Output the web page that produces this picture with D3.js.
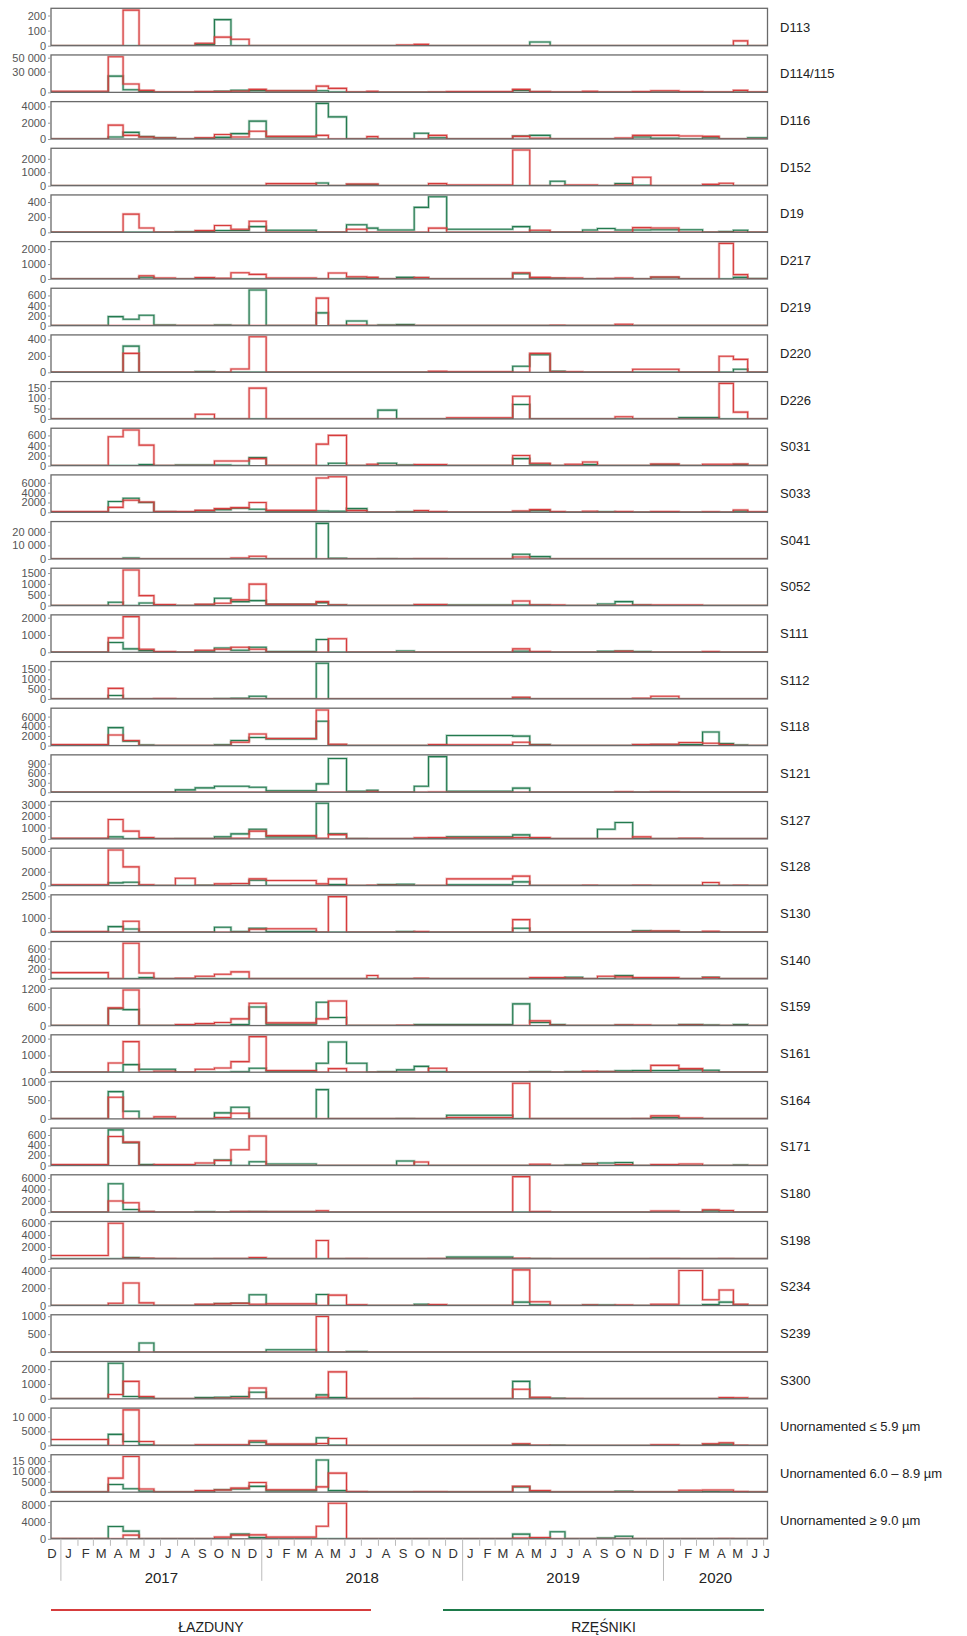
<!DOCTYPE html>
<html><head><meta charset="utf-8">
<script src="https://cdn.jsdelivr.net/npm/d3@7"></script>
<style>
body{margin:0;background:#fff}
svg{display:block}
text{font-family:'Liberation Sans',Arial,Helvetica,sans-serif}
</style>
</head><body>
<svg id="chart" width="967" height="1636"></svg>
<script>
// ---------- DATA ----------
const panelNames = ["D113","D114/115","D116","D152","D19","D217","D219","D220","D226","S031","S033","S041","S052","S111","S112","S118","S121","S127","S128","S130","S140","S159","S161","S164","S171","S180","S198","S234","S239","S300","Unornamented \u2264 5.9 \u00b5m","Unornamented 6.0 \u2013 8.9 \u00b5m","Unornamented \u2265 9.0 \u00b5m"];

// sampling period boundaries (34 periods)
const periodBreaks = ["2016-12-14","2017-03-28","2017-04-24","2017-05-23","2017-06-19","2017-07-28","2017-09-02","2017-10-07","2017-11-06","2017-12-09","2018-01-09","2018-04-10","2018-05-02","2018-06-04","2018-07-11","2018-07-31","2018-09-03","2018-10-05","2018-10-31","2018-12-03","2019-04-02","2019-05-03","2019-06-09","2019-07-06","2019-08-07","2019-09-03","2019-10-05","2019-11-06","2019-12-09","2020-01-29","2020-03-12","2020-04-11","2020-05-07","2020-06-02","2020-07-08"];

const yTickLabels = [[0,100,200],[0,30000,50000],[0,2000,4000],[0,1000,2000],[0,200,400],[0,1000,2000],[0,200,400,600],[0,200,400],[0,50,100,150],[0,200,400,600],[0,2000,4000,6000],[0,10000,20000],[0,500,1000,1500],[0,1000,2000],[0,500,1000,1500],[0,2000,4000,6000],[0,300,600,900],[0,1000,2000,3000],[0,2000,5000],[0,1000,2500],[0,200,400,600],[0,600,1200],[0,1000,2000],[0,500,1000],[0,200,400,600],[0,2000,4000,6000],[0,2000,4000,6000],[0,2000,4000],[0,500,1000],[0,1000,2000],[0,5000,10000],[0,5000,10000,15000],[0,4000,8000]];

// Łazduny (red) — one array of 34 period values per panel
const lazduny = [
[0,0,236,0,0,0,16,57,43,0, 0,0,0,0,0,0,5,9,0,0, 0,0,0,0,0,0,0,0,0,0, 0,0,32,0],
[1500,51400,12000,2900,500,500,1000,1200,1500,4300, 2400,9000,5800,300,1400,200,200,200,500,1000, 4300,1000,300,300,1400,300,500,1000,2400,1000, 600,500,2900,300],
[0,1700,450,250,120,0,160,550,250,950, 330,450,0,0,290,0,0,0,450,0, 330,100,0,0,0,0,120,450,450,370, 330,0,0,0],
[0,0,0,0,0,0,0,0,0,0, 150,0,0,130,130,0,0,0,150,50, 2650,0,0,50,50,0,50,630,0,0, 100,180,0,0],
[0,0,240,58,0,0,22,90,40,147, 0,0,0,40,0,0,0,0,55,0, 0,27,0,0,0,0,0,62,58,0, 0,0,0,0],
[0,0,0,220,70,0,90,45,420,310, 70,0,400,155,110,0,0,90,0,0, 420,110,70,70,0,30,70,0,130,0, 0,2380,290,0],
[0,0,0,0,0,0,0,0,0,0, 0,547,0,13,0,0,0,0,0,0, 0,0,7,0,0,0,27,0,0,0, 0,0,0,0],
[0,0,230,0,0,0,0,0,41,433, 0,0,0,0,0,0,0,0,12,5, 0,230,5,5,0,0,0,37,37,0, 0,195,157,0],
[0,0,0,0,0,0,23,0,0,149, 0,0,0,0,0,0,0,0,0,6, 110,0,0,0,0,0,11,0,0,0, 0,172,33,0],
[0,573,707,407,0,0,0,93,93,140, 0,427,600,0,27,0,0,20,20,0, 200,47,0,27,73,0,0,0,33,0, 27,27,33,0],
[140,1000,2450,2100,140,140,400,750,950,1980, 400,6950,7230,340,0,0,0,340,140,0, 270,550,140,0,200,0,140,0,140,0, 100,0,480,100],
[0,0,0,0,0,0,0,0,750,2000, 0,0,0,0,0,0,0,200,200,0, 1500,0,0,0,0,0,0,0,0,0, 0,0,0,0],
[0,0,1640,460,46,0,62,108,263,990, 62,185,30,0,0,0,0,46,46,0, 216,30,30,0,0,0,20,30,30,30, 0,0,0,0],
[0,835,2060,175,40,0,116,175,290,175, 0,0,780,0,0,0,0,0,0,0, 195,40,0,0,0,0,50,0,0,0, 40,0,0,0],
[0,535,0,0,20,0,0,0,0,0, 0,0,0,0,0,0,0,0,0,0, 86,0,0,0,0,0,0,30,138,0, 0,0,0,0],
[210,2180,1050,0,0,0,0,0,700,2390, 1470,7370,280,0,0,0,0,0,210,140, 700,100,0,0,0,0,0,210,280,630, 490,210,0,0],
[0,0,0,0,0,0,0,0,0,0, 0,0,0,0,20,0,0,0,10,0, 0,0,0,0,0,0,15,0,15,0, 0,0,0,0],
[60,1700,680,120,0,0,0,0,60,680, 290,60,380,0,0,0,0,90,120,90, 120,120,0,0,0,0,0,175,0,60, 0,0,0,0],
[100,5150,2700,100,0,1070,0,240,290,970, 730,240,970,0,50,50,0,0,0,970, 1360,0,0,0,50,0,0,50,0,0, 440,0,50,0],
[50,0,760,0,0,0,0,0,0,210, 240,0,2480,0,0,0,0,40,0,0, 880,0,0,0,0,0,0,40,80,0, 60,0,0,0],
[125,0,704,118,0,13,53,92,138,0, 0,0,0,0,66,0,0,13,0,0, 0,26,26,13,0,53,40,26,26,0, 26,0,0,0],
[0,578,1167,0,0,33,65,98,218,730, 87,218,807,0,0,0,10,0,0,0, 0,153,10,0,0,0,20,20,0,20, 0,0,0,0],
[0,550,1820,0,60,0,175,255,630,2120, 100,0,215,0,0,0,0,0,235,0, 0,0,0,0,50,30,0,0,410,215, 0,0,0,0],
[0,580,0,0,54,0,0,36,150,0, 0,0,0,0,0,0,0,0,0,36, 955,0,0,0,0,0,0,10,80,20, 0,0,0,0],
[20,570,460,0,20,20,50,100,310,580, 0,0,0,0,0,0,0,70,0,0, 0,25,0,0,30,0,20,0,20,30, 0,0,0,0],
[0,1960,1670,120,0,0,0,0,120,60, 60,240,0,0,0,0,0,0,0,0, 6250,120,0,0,0,0,0,0,180,0, 420,300,0,0],
[570,6000,115,115,50,0,0,50,50,230, 0,3090,0,50,0,0,0,0,50,0, 80,0,0,0,0,0,0,0,50,0, 0,50,0,0],
[0,270,2600,310,0,0,155,195,270,155, 195,0,1200,80,0,0,0,0,115,0, 4120,430,0,0,50,0,50,0,155,4050, 660,1790,155,0],
[0,0,0,0,0,0,0,0,0,0, 0,990,0,0,0,0,0,0,0,0, 0,0,0,0,0,0,0,0,0,0, 0,0,0,0],
[0,290,1180,155,0,0,0,40,60,730, 0,110,1820,0,0,0,0,20,0,0, 645,110,0,20,0,0,0,0,0,0, 0,90,70,0],
[2140,0,12600,1430,0,0,240,240,240,1670, 480,710,2500,0,0,0,0,0,0,0, 600,100,0,0,0,0,0,0,240,0, 600,950,100,0],
[0,6800,17200,1500,0,0,750,1060,1970,4700, 1200,2570,9200,300,0,100,0,200,200,0, 2870,750,0,0,0,0,0,0,0,900, 1060,1060,300,0],
[80,0,870,0,0,0,0,400,870,950, 400,3000,8490,0,0,0,0,0,0,0, 160,320,0,0,0,0,0,0,0,0, 0,50,0,0]
];

// Rzęśniki (green)
const rzesniki = [
[0,0,0,0,0,0,9,173,0,0, 0,0,0,0,0,0,0,0,0,0, 0,25,0,0,0,0,0,0,0,0, 0,0,0,0],
[0,23500,3800,1400,0,0,300,1500,3000,2500, 2000,2400,300,0,0,0,0,0,0,0, 2900,300,0,0,0,0,0,0,300,0, 0,0,0,0],
[0,250,820,290,160,0,80,200,660,2200, 250,4370,2720,0,0,0,0,700,150,0, 370,450,0,0,0,0,0,250,100,0, 160,0,0,160],
[0,0,0,0,0,0,0,0,0,0, 0,200,0,80,80,0,0,0,0,0, 0,0,330,0,0,0,150,30,0,0, 0,0,0,0],
[0,0,0,0,0,8,10,25,25,75, 27,0,0,100,55,30,30,330,470,40, 75,0,0,0,30,50,30,30,35,35, 0,10,27,0],
[0,0,0,120,0,0,30,0,0,0, 0,0,0,45,60,0,110,80,0,0, 355,40,40,0,0,0,0,0,120,0, 0,0,110,30],
[0,180,127,207,13,0,0,13,0,707, 0,253,0,93,0,13,20,0,0,0, 0,0,0,0,0,0,0,0,0,0, 0,0,0,0],
[0,0,318,0,0,0,8,0,0,0, 0,0,0,0,0,0,0,0,0,0, 74,214,12,0,0,0,0,0,0,0, 0,0,37,0],
[0,0,0,0,0,0,0,0,0,0, 0,0,0,0,0,43,0,0,0,0, 70,0,0,0,0,0,0,0,0,7, 7,0,0,0],
[0,0,0,20,0,13,10,13,0,160, 0,0,47,0,0,47,10,0,0,0, 140,27,0,0,20,0,0,0,20,0, 0,0,20,0],
[0,2180,2860,1980,100,0,270,550,820,610, 200,270,200,750,0,0,100,0,0,0, 100,340,0,0,0,100,0,0,0,0, 0,0,200,0],
[0,0,750,0,0,0,0,0,0,0, 0,26250,500,0,0,200,0,0,0,0, 3500,1750,0,0,0,0,0,0,0,0, 0,0,0,0],
[0,155,0,124,0,0,40,340,185,232, 62,140,30,0,0,0,0,30,30,30, 30,30,0,0,0,77,185,30,0,0, 0,0,0,0],
[0,563,195,97,0,0,60,250,116,290, 40,740,0,0,0,0,78,0,0,0, 60,0,0,0,0,50,78,40,0,0, 0,0,0,0],
[0,172,0,0,0,0,0,20,30,138, 0,1810,0,0,0,0,0,0,0,0, 50,0,0,0,0,0,0,0,0,0, 0,0,0,0],
[0,3720,910,100,0,0,0,140,1050,1680, 1400,5050,100,0,0,0,0,0,0,2100, 1960,210,0,0,0,0,0,100,140,210, 2800,420,100,0],
[0,0,0,0,0,74,138,190,190,159, 42,265,1060,32,64,0,0,190,1120,32, 130,0,0,0,0,0,0,0,0,0, 0,0,0,0],
[0,175,0,0,0,30,30,175,440,850, 175,3120,440,40,0,0,0,0,0,175, 350,40,0,0,0,850,1440,30,0,0, 0,0,0,0],
[0,390,485,0,0,0,50,0,0,780, 0,0,150,0,0,150,200,0,0,100, 530,0,0,0,0,0,0,0,0,0, 0,0,0,0],
[0,390,230,0,0,0,0,345,50,280, 40,0,0,0,0,0,40,0,0,0, 280,0,0,0,0,0,0,100,60,0, 0,0,0,0],
[0,0,0,26,0,0,0,0,0,0, 0,0,0,0,0,0,0,0,0,0, 0,0,13,33,0,0,66,0,0,0, 33,0,0,0],
[0,556,523,0,0,0,0,0,33,610, 44,763,262,0,0,0,0,33,33,33, 709,98,30,0,0,0,20,0,0,30, 20,0,30,0],
[0,0,450,175,175,0,0,0,30,235, 60,530,1800,530,0,20,140,350,20,0, 0,20,0,20,0,40,80,100,100,140, 120,0,0,0],
[0,730,205,0,0,0,0,160,310,0, 0,785,0,0,0,0,10,0,0,98, 0,0,0,0,0,0,0,0,36,0, 0,0,0,0],
[0,700,450,20,0,0,0,110,0,75, 30,0,0,0,0,0,90,0,0,0, 0,0,0,10,40,50,60,0,0,0, 0,0,10,0],
[0,5000,480,60,0,0,60,0,60,120, 60,0,0,0,0,0,0,0,0,0, 0,0,0,0,0,0,0,0,0,0, 240,0,0,0],
[0,0,230,50,0,0,0,0,0,0, 0,0,0,0,0,0,0,0,0,290, 0,50,0,0,0,0,0,0,0,0, 0,0,0,0],
[0,0,0,0,0,0,50,230,270,1250, 0,1280,0,0,0,0,0,155,0,0, 390,80,0,0,50,50,0,0,0,0, 115,390,50,0],
[0,0,0,255,0,0,0,0,0,0, 66,0,0,19,0,0,0,0,0,0, 0,0,0,0,0,0,0,0,0,0, 0,0,0,0],
[0,2400,155,70,0,0,90,110,155,440, 0,270,90,0,0,0,0,0,0,0, 1180,60,30,0,0,0,0,0,0,0, 0,0,0,0],
[0,3930,1430,240,0,0,0,0,0,1190, 240,2740,100,0,0,0,0,0,0,0, 360,0,100,0,0,0,0,0,0,0, 360,480,0,0],
[0,3700,1660,450,0,0,0,1200,1500,2800, 600,15500,750,0,0,0,0,0,0,0, 2570,300,0,0,0,0,450,0,0,0, 300,200,0,0],
[0,2940,1830,0,0,0,0,0,1110,320, 0,0,0,0,0,0,0,0,0,0, 1110,0,1670,0,0,160,630,0,0,0, 0,0,0,0]
];

const monthLabels = ["D","J","F","M","A","M","J","J","A","S","O","N","D","J","F","M","A","M","J","J","A","S","O","N","D","J","F","M","A","M","J","J","A","S","O","N","D","J","F","M","A","M","J","J"];
const yearLabels = ["2017","2018","2019","2020"];
const legendLabels = ["\u0141AZDUNY","RZ\u0118\u015aNIKI"];

// ---------- LAYOUT ----------
const RED = "#d63c3c", GREEN = "#237a4f";
const svg = d3.select("#chart");
const left = 51, right = 767.5;
const top0 = 8.3, pitch = 46.66, ph = 37.4;
const parse = d3.utcParse("%Y-%m-%d");
const breaks = periodBreaks.map(parse);
const x = d3.scaleUtc().domain([breaks[0], breaks[breaks.length-1]]).range([left, right]);

const fmt = v => v >= 10000 ? d3.format(",")(v).replace(/,/g, "\u2009".replace("\u2009"," ")) : String(v);

const defs = svg.append("defs");

panelNames.forEach((name, i) => {
  const top = top0 + i * pitch, bottom = top + ph;
  const vals = lazduny[i].concat(rzesniki[i]);
  const maxV = d3.max(vals.concat([d3.max(yTickLabels[i])]) ) ;
  const dataMax = d3.max(vals);
  const y = d3.scaleLinear().domain([0, Math.max(dataMax, 1) * 1.05]).range([bottom, top]);
  const g = svg.append("g");

  defs.append("clipPath").attr("id", "clip" + i)
    .append("rect").attr("x", left).attr("y", top - 1).attr("width", right - left).attr("height", ph + 1);

  const line = d3.line().x(d => x(d.t)).y(d => y(d.v)).curve(d3.curveStepAfter);
  const mk = arr => {
    const pts = arr.map((v, k) => ({t: breaks[k], v}));
    pts.push({t: breaks[breaks.length - 1], v: arr[arr.length - 1]});
    return pts;
  };
  const lg = g.append("g").attr("clip-path", `url(#clip${i})`);
  [[rzesniki[i], GREEN], [lazduny[i], RED]].forEach(([arr, col]) => {
    lg.append("path").datum(mk(arr)).attr("d", line)
      .attr("fill", "none").attr("stroke", col).attr("stroke-opacity", 0.35).attr("stroke-width", 2.6);
    lg.append("path").datum(mk(arr)).attr("d", line)
      .attr("fill", "none").attr("stroke", col).attr("stroke-width", 1.1);
  });

  // frame
  g.append("rect").attr("x", left).attr("y", top).attr("width", right - left).attr("height", ph)
    .attr("fill", "none").attr("stroke", "#6a6a6a").attr("stroke-width", 1.3);

  // y axis labels
  const ax = g.append("g").attr("transform", `translate(${left},0)`)
    .call(d3.axisLeft(y).tickValues(yTickLabels[i]).tickSize(3).tickPadding(2).tickFormat(fmt));
  ax.select(".domain").remove();
  ax.selectAll("line").attr("stroke", "#999");
  ax.selectAll("text").attr("fill", "#555").style("font-size", "11px")
    .style("font-family", "'Liberation Sans Narrow','Liberation Sans',Arial,sans-serif");

  // panel title
  g.append("text").attr("x", 780).attr("y", top + ph / 2).attr("dy", "0.35em")
    .attr("fill", "#222").style("font-size", "13px").text(name);
});

// ---------- X AXIS ----------
const axisY = top0 + 32 * pitch + ph;
const xa = svg.append("g");
const monthStarts = d3.utcMonths(d3.utcMonth.floor(breaks[0]), breaks[breaks.length - 1]);
monthStarts.forEach(m => {
  const xm = x(m);
  if (xm < left || xm > right) return;
  const isYear = m.getUTCMonth() === 0;
  xa.append("line").attr("x1", xm).attr("x2", xm).attr("y1", axisY)
    .attr("y2", axisY + (isYear ? 42 : 7)).attr("stroke", "#bbb").attr("stroke-width", 1);
});
monthStarts.forEach((m, k) => {
  const mid = new Date(Date.UTC(m.getUTCFullYear(), m.getUTCMonth(), 15));
  const xm = Math.min(Math.max(x(mid), left + 1), right - 1);
  xa.append("text").attr("x", xm).attr("y", axisY + 19).attr("text-anchor", "middle")
    .attr("fill", "#333").style("font-size", "13px").text(monthLabels[k]);
});
yearLabels.forEach((yl, k) => {
  const a = x(new Date(Date.UTC(+yl, 0, 1)));
  const b = Math.min(x(new Date(Date.UTC(+yl + 1, 0, 1))), right);
  xa.append("text").attr("x", (a + b) / 2).attr("y", axisY + 44).attr("text-anchor", "middle")
    .attr("fill", "#222").style("font-size", "15px").text(yl);
});

// ---------- LEGEND ----------
const legY = 1610;
const legItems = [[legendLabels[0], RED, 51, 371], [legendLabels[1], "#1d7a4a", 443, 764]];
legItems.forEach(([lab, col, x1, x2]) => {
  svg.append("line").attr("x1", x1).attr("x2", x2).attr("y1", legY).attr("y2", legY)
    .attr("stroke", col).attr("stroke-width", 2.2);
  svg.append("text").attr("x", (x1 + x2) / 2).attr("y", legY + 22).attr("text-anchor", "middle")
    .attr("fill", "#222").style("font-size", "14px").text(lab);
});
</script>
</body></html>
